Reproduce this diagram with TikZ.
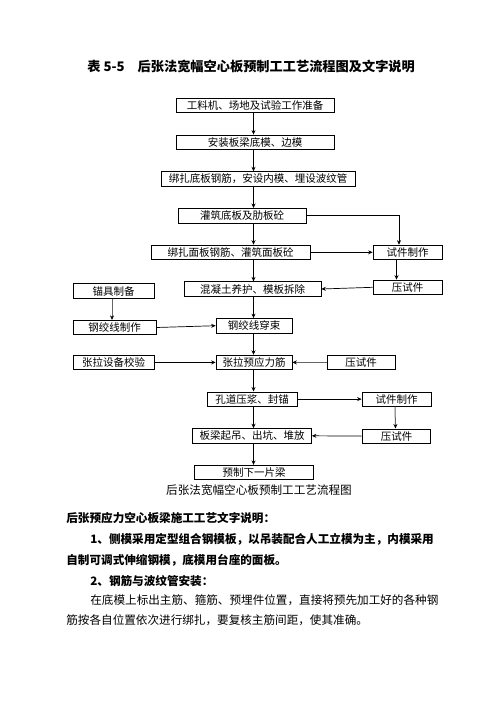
\documentclass[tikz,border=0pt]{standalone}
\usepackage{fontspec}
\newfontfamily\cjk{Noto Sans CJK SC}
\usepackage{tikz}
\usetikzlibrary{arrows.meta}

\begin{document}
\begin{tikzpicture}[
            x = 1pt, y = -1pt, % pixel grid, y downwards
            > = {Stealth[length=4.5pt, width=4pt]}, % arrow head style
            node distance = 36.7pt, % distance between nodes
            line width = 0.7pt % line style
        ]

        \tikzstyle{box}=[
            draw = black,
            inner sep = 0pt,
            minimum height = 14.5pt,
            font = \cjk\fontsize{10.5}{12}\selectfont
        ]
        \tikzstyle{para}=[
            anchor = west,
            inner sep = 0pt,
            font = \cjk\bfseries\fontsize{11.6}{14}\selectfont
        ]
        \tikzstyle{feed}=[-{Stealth[length=4.5pt, width=4pt, black]}, draw = black!60, line width = 1pt]

        \useasboundingbox (0,0) rectangle (496,702);

        \node[anchor=west, inner sep=0pt, font=\cjk\bfseries\fontsize{13.2}{15}\selectfont] (title) at (87,66)
            {表 5-5\hspace{13pt}后张法宽幅空心板预制工工艺流程图及文字说明};

        % main column
        \node[box, minimum width=158pt] (prep) at (255,105.5) {工料机、场地及试验工作准备};
        \node[box, minimum width=158pt] (mold) [below of=prep] {安装板梁底模、边模};
        \node[box, minimum width=194pt, xshift=3pt] (tie) [below of=mold] {绑扎底板钢筋，安设内模、埋设波纹管};
        \node[box, minimum width=128pt, xshift=-16pt] (pour) [below of=tie] {灌筑底板及肋板砼};
        \node[box, minimum width=159pt, xshift=-11.5pt] (deck) [below of=pour] {绑扎面板钢筋、灌筑面板砼};
        \node[box, minimum width=137pt, xshift=22pt] (cure) [below of=deck] {混凝土养护、模板拆除};
        \node[box, minimum width=76pt, xshift=1.5pt] (thread) [below of=cure] {钢绞线穿束};
        \node[box, minimum width=76pt] (tension) [below of=thread] {张拉预应力筋};
        \node[box, minimum width=90pt, xshift=-2pt] (grout) [below of=tension] {孔道压浆、封锚};
        \node[box, minimum width=119pt] (lift) [below of=grout] {板梁起吊、出坑、堆放};
        \node[box, minimum width=119pt, xshift=2pt] (next) [below of=lift] {预制下一片梁};

        % side nodes
        \node[box, minimum width=69pt, node distance=177pt] (sample) [right of=deck] {试件制作};
        \node[box, minimum width=69pt, node distance=35pt] (press) [below of=sample] {压试件};
        \node[box, minimum width=81pt, node distance=139pt, yshift=-2pt] (anchors) [left of=cure] {锚具制备};
        \node[box, minimum width=83pt, node distance=36.5pt, xshift=1pt] (strand) [below of=anchors] {钢绞线制作};
        \node[box, minimum width=81pt, node distance=140.5pt] (calib) [left of=tension] {张拉设备校验};
        \node[box, minimum width=68pt, node distance=107pt] (press2) [right of=tension] {压试件};
        \node[box, minimum width=69pt, node distance=144.5pt] (sample2) [right of=grout] {试件制作};
        \node[box, minimum width=68pt, node distance=37pt] (press3) [below of=sample2] {压试件};

        \node[font=\cjk\fontsize{11.6}{14}\selectfont, inner sep=0pt] (caption) at (259,490)
            {后张法宽幅空心板预制工工艺流程图};

        \coordinate (spine) at (253.5,0);

        \path[->] (prep.south -| spine) edge (mold.north -| spine);
        \path[->] (mold.south -| spine) edge (tie.north -| spine);
        \path[->] (tie.south -| spine) edge (pour.north -| spine);
        \path[->] (pour.south -| spine) edge (deck.north -| spine);
        \path[->] (deck.south -| spine) edge (cure.north -| spine);
        \path[->] (cure.south -| spine) edge (thread.north -| spine);
        \path[->] (thread.south -| spine) edge (tension.north -| spine);
        \path[->] (tension.south -| spine) edge (grout.north -| spine);
        \path[->] (grout.south -| spine) edge (lift.north -| spine);
        \path[->] (lift.south -| spine) edge (next.north -| spine);

        \draw[->] (pour.east) -| ([xshift=-8.5pt]sample.north);
        \path[->] (deck.east) edge (sample.west);
        \path[->] ([xshift=-11pt]sample.south) edge ([xshift=-11pt]press.north);
        \path[->] (press.west) edge (cure.east);
        \draw[feed] ([xshift=-1.5pt]anchors.south) -- ([xshift=-2.5pt]strand.north);
        \path[->] (strand.east) edge (thread.west);
        \path[->] (calib.east) edge (tension.west);
        \draw[feed] (press2.west) -- (tension.east);
        \path[->] (grout.east) edge (sample2.west);
        \draw[feed] ([xshift=-1.5pt]sample2.south) -- ([xshift=-1pt]press3.north);
        \path[->] (press3.west) edge (lift.east);

        % description
        \node[para] (d1) at (66,518) {后张预应力空心板梁施工工艺文字说明：};
        \node[para] (d2) at (90,539) {1、侧模采用定型组合钢模板，以吊装配合人工立模为主，内模采用};
        \node[para] (d3) at (66,560) {自制可调式伸缩钢模，底模用台座的面板。};
        \node[para] (d4) at (90,581) {2、钢筋与波纹管安装：};
        \node[para, font=\cjk\fontsize{11.6}{14}\selectfont] (d5) at (90,600)
            {在底模上标出主筋、箍筋、预埋件位置，直接将预先加工好的各种钢};
        \node[para, font=\cjk\fontsize{11.6}{14}\selectfont] (d6) at (66,620)
            {筋按各自位置依次进行绑扎，要复核主筋间距，使其准确。};

  \end{tikzpicture}
\end{document}
